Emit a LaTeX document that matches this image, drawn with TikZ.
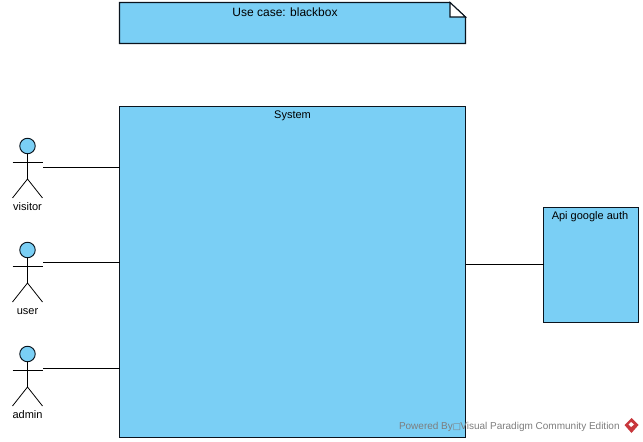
\documentclass[tikz,border=0pt]{standalone}
\usepackage{fontspec}
\setmainfont{Liberation Sans}
\newfontfamily\symfont{DejaVu Sans}
\usetikzlibrary{calc}
\definecolor{vpblue}{RGB}{122,207,245}
\definecolor{vpline}{RGB}{10,20,30}
\definecolor{vpgray}{RGB}{125,125,125}
\definecolor{vpred}{RGB}{200,55,60}
\tikzset{
  x=0.75pt,y=-0.75pt,
  every node/.style={font=\fontsize{8.25pt}{10pt}\selectfont,text=black,inner sep=0pt,outer sep=0pt},
  boxshape/.style={draw=vpline,fill=vpblue,line width=0.8pt,rectangle,anchor=north west},
  wire/.style={draw=black,line width=0.75pt},
  stick/.style={draw=black,line width=0.6pt},
  headshape/.style={circle,draw=vpline,fill=vpblue,line width=0.7pt,minimum size=11.6pt},
  boxtitle/.style={anchor=base},
  actorlabel/.style={anchor=base},
}
\newcommand{\stickman}[5]{% name, x, head centre y, label, label offset
  \node[headshape] (#1head) at (#2,#3) {};
  \coordinate (#1hip) at (#2,#3+33);
  \coordinate (#1armL) at (#2-15,#3+16);
  \coordinate (#1armR) at (#2+15,#3+16);
  \coordinate (#1footL) at (#2-15,#3+52);
  \coordinate (#1footR) at (#2+15,#3+52);
  \draw[stick] (#1head.south) -- (#1hip);
  \draw[stick] (#1armL) -- (#1armR);
  \draw[stick] (#1footL) -- (#1hip) -- (#1footR);
  \node[actorlabel] (#1label) at (#2,#3+#5) {#4};
}
\begin{document}
\begin{tikzpicture}
\useasboundingbox (0,0) rectangle (643,442);
% note
\path[draw=vpline,fill=vpblue,line width=0.8pt] (119.5,2.5) -- (450,2.5) -- (465.5,17) -- (465.5,43.5) -- (119.5,43.5) -- cycle;
\path[draw=vpline,fill=white,line width=0.8pt] (450,2.5) -- (450,17) -- (465.5,17) -- cycle;
\node[anchor=base,font=\fontsize{9pt}{10pt}\selectfont] (notetext) at (285,17) {Use case: blackbox};
% system
\node[boxshape,minimum width=259.5pt,minimum height=248pt] (system) at (119.5,106.5) {};
\node[boxtitle] (systemtitle) at (292.5,118.5) {System};
% api
\node[boxshape,minimum width=70.9pt,minimum height=86.2pt] (api) at (543.5,207.5) {};
\node[boxtitle] (apititle) at (590,219.5) {Api google auth};
% actors
\stickman{visitor}{27.5}{146}{visitor}{64.5}
\stickman{user}{27.5}{250}{user}{64}
\stickman{admin}{27.5}{354}{admin}{64}
% connectors
\coordinate (visitorend) at (43,167.5);
\coordinate (userend) at (43,262.5);
\coordinate (adminend) at (43,368.5);
\draw[wire] (visitorend) -- (system.west |- visitorend);
\draw[wire] (userend) -- (system.west |- userend);
\draw[wire] (adminend) -- (system.west |- adminend);
\coordinate (apimid) at (543.5,264.5);
\draw[wire] (system.east |- apimid) -- (api.west |- apimid);
% watermark
\node[anchor=base west,text=vpgray,font=\fontsize{7.5pt}{9pt}\selectfont] (mark) at (399,429) {Powered By{\symfont\fontsize{6.5pt}{8pt}\selectfont □}\kern-0.6ptVisual Paradigm Community Edition};
\path[fill=vpred] (631.5,418) -- (638.5,425) -- (631.5,433) -- (624.5,425) -- cycle;
\path[fill=white] (631,422) -- (634,424.5) -- (631,427) -- (628.5,424.5) -- cycle;
\end{tikzpicture}
\end{document}
